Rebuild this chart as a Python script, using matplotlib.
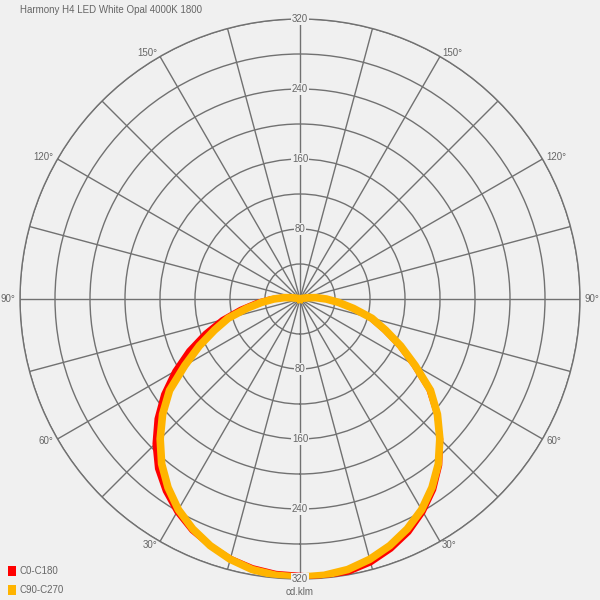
import numpy as np
import matplotlib.pyplot as plt

plt.rcParams['font.family'] = ['Liberation Sans', 'DejaVu Sans']

# luminous intensity (cd/klm) vs gamma angle from nadir
gamma = [0, 5, 10, 15, 20, 25, 30, 35, 40, 45, 50, 55, 60, 65, 70, 75, 80, 85,
         90, 95, 100, 105, 110, 115, 120]
c0 = [319, 319, 317, 312, 304, 294, 281, 266, 248, 227, 204, 180, 150, 125, 102,
      83, 61, 43, 29, 17, 7, 2, 1, 0, 0]
c180 = [316, 315, 312, 307, 300, 292, 281, 268, 253, 234, 213, 190, 165, 140, 115,
        92, 69, 50, 34, 21, 9, 3, 1, 0, 0]
c90 = [318, 317, 314, 308, 300, 290, 278, 263, 246, 226, 205, 182, 152, 127, 104,
       85, 62, 44, 30, 18, 8, 3, 1, 0, 0]
c270 = c90

title = 'Harmony H4 LED White Opal 4000K 1800'
ring_labels = [80, 160, 240, 320]
angle_labels = [30, 60, 90, 120, 150]

bg = '#f0f0f0'
grid_c = '#717171'
txt_c = '#666666'
fs = 7.0

fig = plt.figure(figsize=(6, 6), dpi=100, facecolor=bg)
ax = fig.add_axes([20 / 600, 21 / 600, 560 / 600, 560 / 600], projection='polar')
ax.set_facecolor(bg)
ax.set_theta_zero_location('S')
ax.set_ylim(0, 320)

g = np.radians(gamma)


def both_sides(left, right):
    th = np.concatenate([-g[::-1], g[1:]])
    r = np.concatenate([np.array(left)[::-1], np.array(right)[1:]])
    return th, r


th, r = both_sides(c180, c0)
ax.plot(th, r, color='#ff0000', lw=4.0, solid_joinstyle='miter', zorder=3)
th, r = both_sides(c270, c90)
ax.plot(th, r, color='#ffb400', lw=5.5, solid_joinstyle='miter', zorder=4)

# grid
ax.set_xticks(np.radians(np.arange(0, 360, 15)))
ax.set_yticks(np.arange(40, 321, 40))
ax.set_xticklabels([])
ax.set_yticklabels([])
ax.grid(True, color=grid_c, lw=1.0)
ax.spines['polar'].set_color(grid_c)
ax.spines['polar'].set_linewidth(1.0)
ax.set_axisbelow(True)

for v in ring_labels:
    for t in (np.pi, 0):
        ax.text(t, v, str(v), ha='center', va='center', fontsize=fs, color=txt_c,
                zorder=5, bbox=dict(boxstyle='square,pad=0.1', fc=bg, ec='none'))

for a in angle_labels:
    ax.text(np.radians(a), 325, '%d°' % a, ha='left', va='center', fontsize=fs, color=txt_c)
    ax.text(-np.radians(a), 325, '%d°' % a, ha='right', va='center', fontsize=fs, color=txt_c)

fig.text(20 / 600, 1 - 10 / 600, title, ha='left', va='center', fontsize=fs, color=txt_c)
fig.text(300 / 600, 1 - 592 / 600, 'cd.klm', ha='center', va='center', fontsize=fs, color=txt_c)

for i, (name, col) in enumerate([('C0-C180', '#ff0000'), ('C90-C270', '#ffb400')]):
    y = 1 - (571 + i * 19) / 600
    fig.patches.append(plt.Rectangle((8 / 600, y - 5 / 600), 8 / 600, 10 / 600,
                                     transform=fig.transFigure, fc=col, ec='none'))
    fig.text(20 / 600, y, name, ha='left', va='center', fontsize=fs, color=txt_c)

fig.savefig('out.png', dpi=100, facecolor=bg)
